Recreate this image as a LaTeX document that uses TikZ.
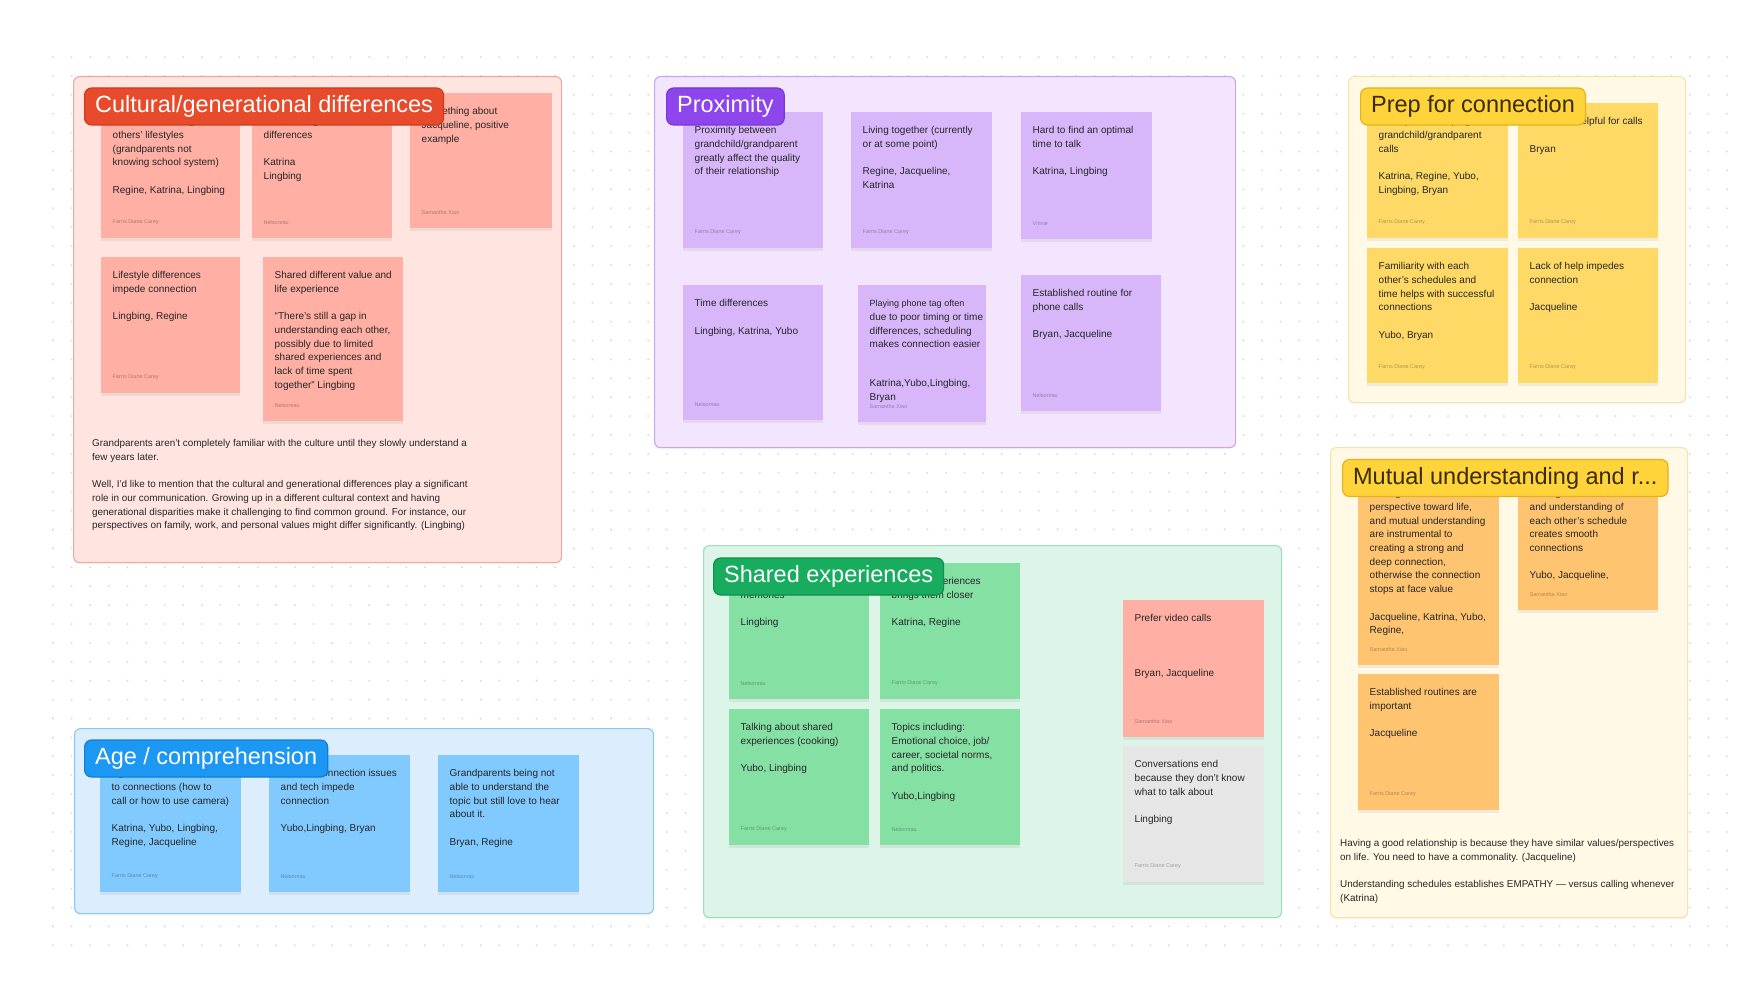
\documentclass[tikz,border=0pt]{standalone}
\usepackage{fontspec}
\setmainfont{Liberation Sans}
\usetikzlibrary{shadows}

\definecolor{gridgrey}{HTML}{DCDCDC}
\definecolor{cultBg}{HTML}{FFE4E0}
\definecolor{cultLine}{HTML}{EBAAA0}
\definecolor{cultHead}{HTML}{E84B2B}
\definecolor{cultHeadLine}{HTML}{CC3B1E}
\definecolor{cultNote}{HTML}{FFAFA3}
\definecolor{proxBg}{HTML}{F3E5FD}
\definecolor{proxLine}{HTML}{C9A6F2}
\definecolor{proxHead}{HTML}{8F45EC}
\definecolor{proxHeadLine}{HTML}{7836D8}
\definecolor{proxNote}{HTML}{D7B6FA}
\definecolor{prepBg}{HTML}{FFF9E6}
\definecolor{prepLine}{HTML}{F6E3A6}
\definecolor{prepHead}{HTML}{FFD33A}
\definecolor{prepHeadLine}{HTML}{E3B21C}
\definecolor{prepNote}{HTML}{FFD966}
\definecolor{mutuNote}{HTML}{FFC470}
\definecolor{sharBg}{HTML}{DDF5E8}
\definecolor{sharLine}{HTML}{A0DDBA}
\definecolor{sharHead}{HTML}{18AC5F}
\definecolor{sharHeadLine}{HTML}{0F8F4B}
\definecolor{sharNote}{HTML}{85E0A3}
\definecolor{greyNote}{HTML}{E6E6E6}
\definecolor{ageBg}{HTML}{DCEEFD}
\definecolor{ageLine}{HTML}{8CC8F6}
\definecolor{ageHead}{HTML}{1C97F4}
\definecolor{ageHeadLine}{HTML}{0F80D8}
\definecolor{ageNote}{HTML}{80CAFF}
\definecolor{headInk}{HTML}{3A2C00}

\tikzset{
  boardbox/.style={anchor=north west, inner sep=0pt, rounded corners=6pt, line width=1.1pt,
    drop shadow={shadow xshift=0pt, shadow yshift=-2pt, opacity=.06}},
  titlebox/.style={anchor=west, inner xsep=10.5pt, inner ysep=0pt, minimum height=37pt,
    rounded corners=7pt, line width=1.2pt, font=\fontsize{23.5}{28}\selectfont},
  notebox/.style={anchor=north west, inner sep=0pt,
    drop shadow={shadow xshift=0pt, shadow yshift=-3pt, opacity=.12}},
  notetext/.style={anchor=north west, inner sep=0pt, align=left, text=black!85,
    font=\fontsize{10}{13.7}\selectfont},
  notefoot/.style={anchor=west, inner sep=0pt, text=black, text opacity=.3,
    font=\fontsize{5.5}{6}\selectfont},
  paratext/.style={anchor=north west, inner sep=0pt, align=left, text=black!85,
    font=\fontsize{9.9}{13.7}\selectfont}
}

% blank line inside a note
\newcommand{\gap}{\\[13.7pt]}
% name, colour, x, y, width, height, text, author
\newcommand{\stickynote}[8]{%
  \node[notebox, fill=#2, minimum width=#5pt, minimum height=#6pt] (#1) at (#3,#4) {};
  \node[notetext] (#1-txt) at ([xshift=11.5pt,yshift=-12pt]#1.north west) {\strut#7};
  \node[notefoot] (#1-ft) at ([xshift=11.5pt,yshift=16pt]#1.south west) {#8};
}

\begin{document}
\begin{tikzpicture}[x=1pt, y=-1pt]
  \useasboundingbox[fill=white] (0,0) rectangle (1752,1006);

  % dotted canvas
  \foreach \i in {0,...,90}{
    \foreach \j in {0,...,47}{
      \fill[gridgrey] (53+18.6*\i, 57+18.9*\j) circle (1.1);
    }
  }

  % sections
  \node[boardbox, fill=cultBg, draw=cultLine, minimum width=488pt, minimum height=486pt] (cult) at (73,76) {};
  \node[boardbox, fill=proxBg, draw=proxLine, minimum width=581pt, minimum height=371pt] (prox) at (654,76) {};
  \node[boardbox, fill=prepBg, draw=prepLine, minimum width=337pt, minimum height=326pt] (prep) at (1348,76) {};
  \node[boardbox, fill=prepBg, draw=prepLine, minimum width=357pt, minimum height=470pt] (mutu) at (1330,447) {};
  \node[boardbox, fill=sharBg, draw=sharLine, minimum width=578pt, minimum height=372pt] (shar) at (703,545) {};
  \node[boardbox, fill=ageBg, draw=ageLine, minimum width=579pt, minimum height=185pt] (age) at (74,728) {};

  % Cultural/generational differences
  \stickynote{c1}{cultNote}{101}{103}{139}{135}{Not understanding each\\others' lifestyles\\(grandparents not\\knowing school system)\gap Regine, Katrina, Lingbing}{Farris Diane Carey}
  \stickynote{c2}{cultNote}{252}{103}{140}{135}{Cultural or generational\\differences\gap Katrina\\Lingbing}{Nelsonrau}
  \stickynote{c3}{cultNote}{410}{93}{142}{135}{Something about\\Jacqueline, positive\\example}{Samantha Xiao}
  \stickynote{c4}{cultNote}{101}{257}{139}{136}{Lifestyle differences\\impede connection\gap Lingbing, Regine}{Farris Diane Carey}
  \stickynote{c5}{cultNote}{263}{257}{140}{164}{Shared different value and\\life experience\gap ``There's still a gap in\\understanding each other,\\possibly due to limited\\shared experiences and\\lack of time spent\\together'' Lingbing}{Nelsonrau}
  \node[paratext] (cult-quote) at (92,437) {\strut Grandparents aren't completely familiar with the culture until they slowly understand a\\few years later.\gap Well, I'd like to mention that the cultural and generational differences play a significant\\role in our communication. Growing up in a different cultural context and having\\generational disparities make it challenging to find common ground. For instance, our\\perspectives on family, work, and personal values might differ significantly. (Lingbing)};

  % Proximity
  \stickynote{p1}{proxNote}{683}{112}{140}{136}{Proximity between\\grandchild/grandparent\\greatly affect the quality\\of their relationship}{Farris Diane Carey}
  \stickynote{p2}{proxNote}{851}{112}{141}{136}{Living together (currently\\or at some point)\gap Regine, Jacqueline,\\Katrina}{Farris Diane Carey}
  \stickynote{p3}{proxNote}{1021}{112}{131}{127}{Hard to find an optimal\\time to talk\gap Katrina, Lingbing}{Vinnie}
  \stickynote{p4}{proxNote}{683}{285}{140}{135}{Time differences\gap Lingbing, Katrina, Yubo}{Nelsonrau}
  \stickynote{p5}{proxNote}{858}{285}{128}{137}{\fontsize{9}{12.6}\selectfont Playing phone tag often\\due to poor timing or time\\differences, scheduling\\makes connection easier\\[25.2pt]Katrina,Yubo,Lingbing,\\Bryan}{Samantha Xiao}
  \stickynote{p6}{proxNote}{1021}{275}{140}{136}{Established routine for\\phone calls\gap Bryan, Jacqueline}{Nelsonrau}

  % Prep for connection
  \stickynote{r1}{prepNote}{1367}{103}{141}{135}{Have person helping with\\grandchild/grandparent\\calls\gap Katrina, Regine, Yubo,\\Lingbing, Bryan}{Farris Diane Carey}
  \stickynote{r2}{prepNote}{1518}{103}{140}{135}{Notes are helpful for calls\gap Bryan}{Farris Diane Carey}
  \stickynote{r3}{prepNote}{1367}{248}{141}{135}{Familiarity with each\\other's schedules and\\time helps with successful\\connections\gap Yubo, Bryan}{Farris Diane Carey}
  \stickynote{r4}{prepNote}{1518}{248}{140}{135}{Lack of help impedes\\connection\gap Jacqueline}{Farris Diane Carey}

  % Mutual understanding
  \stickynote{m1}{mutuNote}{1358}{475}{141}{190}{Having similar values and\\perspective toward life,\\and mutual understanding\\are instrumental to\\creating a strong and\\deep connection,\\otherwise the connection\\stops at face value\gap Jacqueline, Katrina, Yubo,\\Regine,}{Samantha Xiao}
  \stickynote{m2}{mutuNote}{1518}{475}{140}{135}{Having a set schedule\\and understanding of\\each other's schedule\\creates smooth\\connections\gap Yubo, Jacqueline,}{Samantha Xiao}
  \stickynote{m3}{mutuNote}{1358}{674}{141}{136}{Established routines are\\important\gap Jacqueline}{Farris Diane Carey}
  \node[paratext] (mutu-quote) at (1340,837) {\strut Having a good relationship is because they have similar values/perspectives\\on life. You need to have a commonality. (Jacqueline)\gap Understanding schedules establishes EMPATHY --- versus calling whenever\\(Katrina)};

  % Shared experiences
  \stickynote{s1}{sharNote}{729}{563}{140}{136}{Creating shared\\memories\gap Lingbing}{Nelsonrau}
  \stickynote{s2}{sharNote}{880}{563}{140}{136}{Shared experiences\\brings them closer\gap Katrina, Regine}{Farris Diane Carey}
  \stickynote{s3}{sharNote}{729}{709}{140}{136}{Talking about shared\\experiences (cooking)\gap Yubo, Lingbing}{Farris Diane Carey}
  \stickynote{s4}{sharNote}{880}{709}{140}{136}{Topics including:\\Emotional choice, job/\\career, societal norms,\\and politics.\gap Yubo,Lingbing}{Nelsonrau}
  \stickynote{s5}{cultNote}{1123}{600}{141}{137}{Prefer video calls\\[41.1pt]Bryan, Jacqueline}{Samantha Xiao}
  \stickynote{s6}{greyNote}{1123}{746}{141}{136}{Conversations end\\because they don't know\\what to talk about\gap Lingbing}{Farris Diane Carey}

  % Age / comprehension
  \stickynote{a1}{ageNote}{100}{755}{141}{137}{Age is a barrier when it comes\\to connections (how to\\call or how to use camera)\gap Katrina, Yubo, Lingbing,\\Regine, Jacqueline}{Farris Diane Carey}
  \stickynote{a2}{ageNote}{269}{755}{141}{137}{Internet/connection issues\\and tech impede\\connection\gap Yubo,Lingbing, Bryan}{Nelsonrau}
  \stickynote{a3}{ageNote}{438}{755}{141}{137}{Grandparents being not\\able to understand the\\topic but still love to hear\\about it.\gap Bryan, Regine}{Nelsonrau}

  % section titles on top
  \node[titlebox, fill=cultHead, draw=cultHeadLine, text=white] (cult-title) at ([xshift=11pt,yshift=-30.5pt]cult.north west) {Cultural/generational differences};
  \node[titlebox, fill=proxHead, draw=proxHeadLine, text=white] (prox-title) at ([xshift=12pt,yshift=-30.5pt]prox.north west) {Proximity};
  \node[titlebox, fill=prepHead, draw=prepHeadLine, text=headInk] (prep-title) at ([xshift=12pt,yshift=-30.5pt]prep.north west) {Prep for connection};
  \node[titlebox, fill=prepHead, draw=prepHeadLine, text=headInk] (mutu-title) at ([xshift=12pt,yshift=-31pt]mutu.north west) {Mutual understanding and r...};
  \node[titlebox, fill=sharHead, draw=sharHeadLine, text=white] (shar-title) at ([xshift=10pt,yshift=-31.5pt]shar.north west) {Shared experiences};
  \node[titlebox, fill=ageHead, draw=ageHeadLine, text=white] (age-title) at ([xshift=10pt,yshift=-30.5pt]age.north west) {Age / comprehension};
\end{tikzpicture}
\end{document}
